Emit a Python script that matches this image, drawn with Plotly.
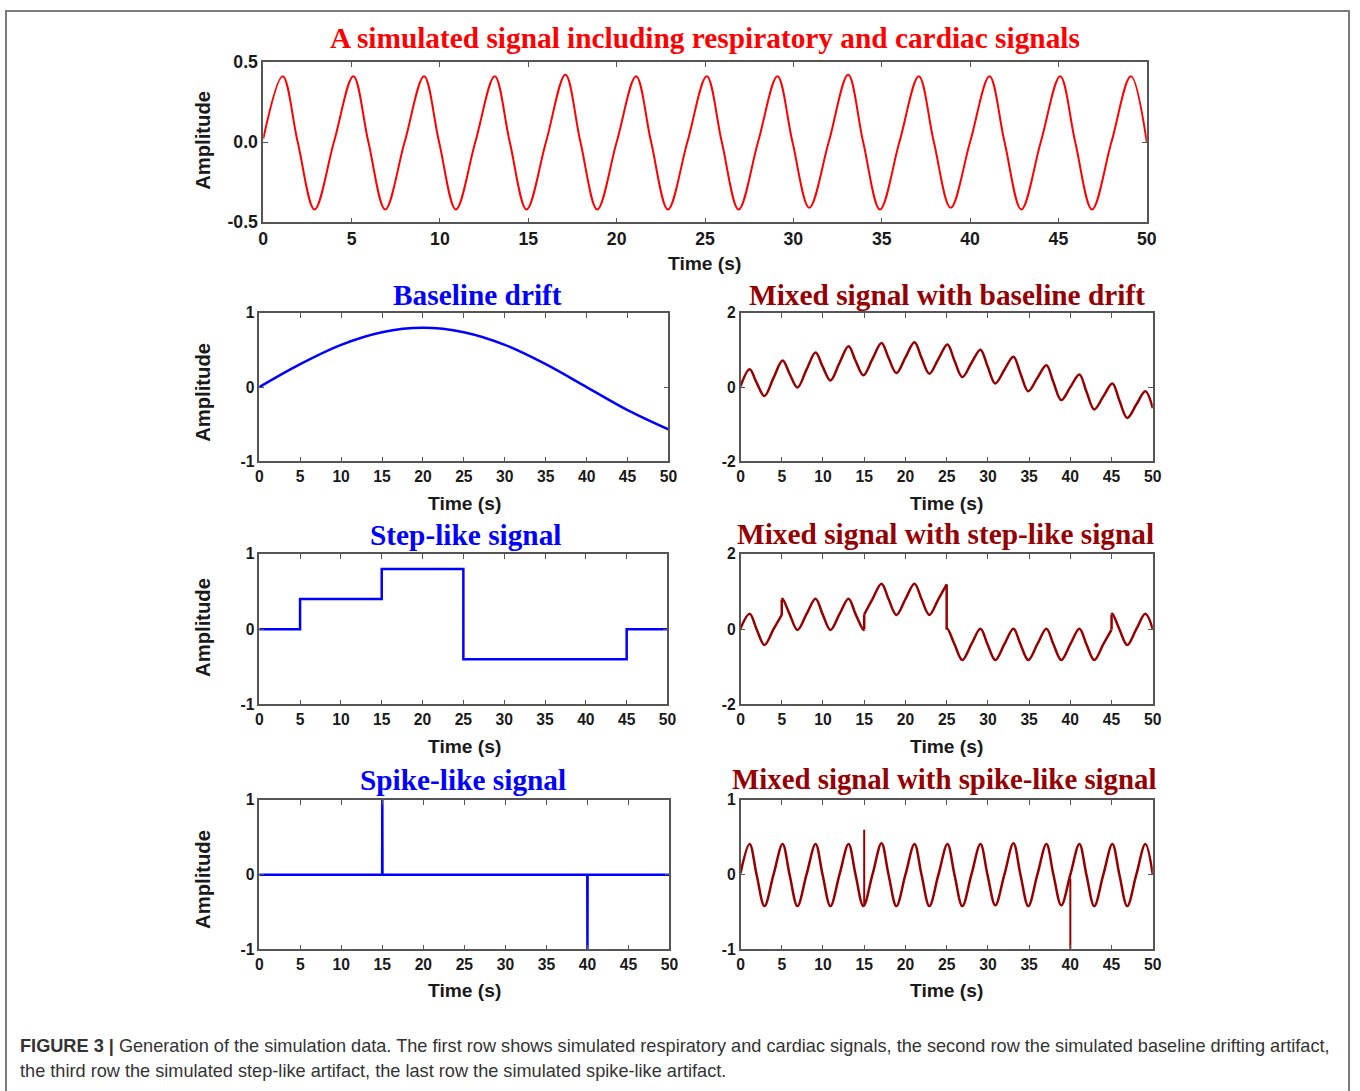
import plotly.graph_objects as go

W, H = 1360, 1091             # figure size
BODY = 8                      # page margin around the figure
SX, SY = 1360 / 1376, 1091 / 1107   # page -> picture scaling seen in the renders
FS = 1 / SX                   # font compensation

# ---------------- data ----------------
time_ticks = [0, 5, 10, 15, 20, 25, 30, 35, 40, 45, 50]
top_yticks = [-0.5, 0.0, 0.5]
top_yticktext = ['-0.5', '0.0', '0.5']

# respiratory + cardiac signal: key points (zero crossings, peaks, troughs)
resp_t = [0, 1.1, 1.95, 2.9, 4.0, 5.1, 5.95, 6.9, 8.0, 9.1, 9.95, 10.9, 12.0, 13.1, 13.95, 14.9,
          16.0, 17.1, 17.95, 18.9, 20.0, 21.1, 21.95, 22.9, 24.0, 25.1, 25.95, 26.9, 28.0, 29.1,
          29.95, 30.9, 32.0, 33.1, 33.95, 34.9, 36.0, 37.1, 37.95, 38.9, 40.0, 41.1, 41.95, 42.9,
          44.0, 45.1, 45.95, 46.9, 48.0, 49.1, 50.0]
resp_y = [0.02, 0.41, 0.0, -0.42, 0.0, 0.41, 0.0, -0.42, 0.0, 0.41, 0.0, -0.42, 0.0, 0.41, 0.0, -0.42,
          0.0, 0.42, 0.0, -0.42, 0.0, 0.41, 0.0, -0.42, 0.0, 0.41, 0.0, -0.42, 0.0, 0.41,
          0.0, -0.41, 0.0, 0.42, 0.0, -0.42, 0.0, 0.41, 0.0, -0.41, 0.0, 0.41, 0.0, -0.42,
          0.0, 0.41, 0.0, -0.42, 0.0, 0.41, 0.0]

# baseline drift
drift_t = [0, 5, 10, 15, 20, 25, 30, 35, 40, 45, 50]
drift_y = [0.0, 0.31, 0.57, 0.74, 0.80, 0.74, 0.57, 0.31, 0.0, -0.31, -0.57]

# mixed signal with baseline drift (same key times as resp_t)
mix_drift_y = [0.02, 0.48, 0.12, -0.24, 0.25, 0.72, 0.36, -0.01, 0.47, 0.93, 0.56, 0.18, 0.65, 1.10,
               0.71, 0.32, 0.76, 1.19, 0.79, 0.38, 0.80, 1.21, 0.79, 0.36, 0.76, 1.15, 0.71, 0.27,
               0.65, 1.01, 0.57, 0.10, 0.47, 0.82, 0.37, -0.11, 0.25, 0.59, 0.13, -0.35, 0.0, 0.34,
               -0.12, -0.60, -0.25, 0.10, -0.36, -0.83, -0.47, -0.11, -0.57]

# step-like signal
step_t = [0, 5, 15, 25, 45, 50]
step_y = [0.0, 0.4, 0.8, -0.4, 0.0, 0.0]

# mixed signal with step-like signal (None = jump)
mix_step_t = [0, 1.1, 1.95, 2.9, 4.0, 5.0, None,
              5.0, 5.1, 5.95, 6.9, 8.0, 9.1, 9.95, 10.9, 12.0, 13.1, 13.95, 14.9, 15.0, None,
              15.0, 16.0, 17.1, 17.95, 18.9, 20.0, 21.1, 21.95, 22.9, 24.0, 25.0, None,
              25.0, 25.1, 25.95, 26.9, 28.0, 29.1, 29.95, 30.9, 32.0, 33.1, 33.95, 34.9, 36.0,
              37.1, 37.95, 38.9, 40.0, 41.1, 41.95, 42.9, 44.0, 45.0, None,
              45.0, 45.1, 45.95, 46.9, 48.0, 49.1, 50.0]
mix_step_y = [0.02, 0.41, 0.0, -0.42, 0.0, 0.38, None,
              0.78, 0.81, 0.4, -0.02, 0.4, 0.81, 0.4, -0.02, 0.4, 0.81, 0.4, -0.02, -0.01, None,
              0.39, 0.8, 1.21, 0.8, 0.38, 0.8, 1.21, 0.8, 0.38, 0.8, 1.19, None,
              -0.01, 0.01, -0.4, -0.82, -0.4, 0.01, -0.4, -0.82, -0.4, 0.01, -0.4, -0.82, -0.4,
              0.01, -0.4, -0.82, -0.4, 0.01, -0.4, -0.82, -0.4, -0.01, None,
              0.39, 0.41, 0.0, -0.42, 0.0, 0.41, 0.0]

# spike-like signal
spike_t = [0, 14.98, 15.0, 15.02, 39.98, 40.0, 40.02, 50]
spike_y = [0.0, 0.0, 1.0, 0.0, 0.0, -1.0, 0.0, 0.0]

# mixed signal with spike-like signal: resp key points + spikes
mix_spike_t = [15.0, 40.0]
mix_spike_from = [-0.41, -0.05]
mix_spike_to = [0.6, -1.0]

# ---------------- styling ----------------
RED = '#ff0000'
BLUE = '#0000ff'
DRED = '#960000'
FRAME = '#555555'


def px(x):
    """reference pixel -> paper x"""
    return (x / SX - BODY) / W


def py(y):
    """reference pixel -> paper y"""
    return 1 - (y / SY - BODY) / H


fig = go.Figure()

panels = [
    # name, x px range, y px range, yrange, ytickvals, ticktext, tick font size
    ('', (266, 1149), (60, 221), [-0.5, 0.5], top_yticks, top_yticktext, 17.5),
    ('2', (262, 671), (312, 461), [-1, 1], [-1, 0, 1], ['-1', '0', '1'], 15.5),
    ('3', (743, 1155), (312, 461), [-2, 2], [-2, 0, 2], ['-2', '0', '2'], 15.5),
    ('4', (262, 670), (554, 705), [-1, 1], [-1, 0, 1], ['-1', '0', '1'], 15.5),
    ('5', (743, 1155), (554, 705), [-2, 2], [-2, 0, 2], ['-2', '0', '2'], 15.5),
    ('6', (262, 672), (801, 951), [-1, 1], [-1, 0, 1], ['-1', '0', '1'], 15.5),
    ('7', (743, 1155), (801, 951), [-1, 1], [-1, 0, 1], ['-1', '0', '1'], 15.5),
]

layout_axes = {}
for name, xr, yr, yrange, yticks, ytext, fs in panels:
    tickfont = dict(family='Liberation Sans, Arial', size=fs * FS, color='#1a1a1a', weight='bold')
    common = dict(showline=True, linecolor=FRAME, linewidth=1.5, mirror='ticks',
                  ticks='inside', ticklen=5, tickwidth=1.2, tickcolor=FRAME,
                  showgrid=False, zeroline=False, tickfont=tickfont)
    layout_axes['xaxis' + name] = dict(common, domain=[px(xr[0]), px(xr[1])], range=[0, 50],
                                       tickvals=time_ticks, anchor='y' + name)
    layout_axes['yaxis' + name] = dict(common, domain=[py(yr[1]), py(yr[0])], range=yrange,
                                       tickvals=yticks, ticktext=ytext, anchor='x' + name)
fig.update_layout(**layout_axes)

# traces
fig.add_trace(go.Scatter(x=resp_t, y=resp_y, mode='lines', line=dict(color=RED, width=2, shape='spline'),
                         xaxis='x', yaxis='y'))
fig.add_trace(go.Scatter(x=drift_t, y=drift_y, mode='lines', line=dict(color=BLUE, width=2.5, shape='spline'),
                         xaxis='x2', yaxis='y2'))
fig.add_trace(go.Scatter(x=resp_t, y=mix_drift_y, mode='lines', line=dict(color=DRED, width=2.5, shape='spline'),
                         xaxis='x3', yaxis='y3'))
fig.add_trace(go.Scatter(x=step_t, y=step_y, mode='lines', line=dict(color=BLUE, width=2.5, shape='hv'),
                         xaxis='x4', yaxis='y4'))
fig.add_trace(go.Scatter(x=mix_step_t, y=mix_step_y, mode='lines', connectgaps=False,
                         line=dict(color=DRED, width=2.5, shape='spline'), xaxis='x5', yaxis='y5'))
# jumps of the mixed step signal, joined from the segment ends
jx, jy = [], []
for i, v in enumerate(mix_step_t):
    if v is None:
        jx += [mix_step_t[i - 1], mix_step_t[i + 1], None]
        jy += [mix_step_y[i - 1], mix_step_y[i + 1], None]
fig.add_trace(go.Scatter(x=jx, y=jy, mode='lines', line=dict(color=DRED, width=2.5),
                         xaxis='x5', yaxis='y5'))
fig.add_trace(go.Scatter(x=spike_t, y=spike_y, mode='lines', line=dict(color=BLUE, width=2.5),
                         xaxis='x6', yaxis='y6'))
fig.add_trace(go.Scatter(x=resp_t, y=resp_y, mode='lines', line=dict(color=DRED, width=2.5, shape='spline'),
                         xaxis='x7', yaxis='y7'))
sx, sy = [], []
for t, a, b in zip(mix_spike_t, mix_spike_from, mix_spike_to):
    sx += [t, t, None]
    sy += [a, b, None]
fig.add_trace(go.Scatter(x=sx, y=sy, mode='lines', line=dict(color=DRED, width=2),
                         xaxis='x7', yaxis='y7'))

annotations = []
TITLE_FONT = 'Liberation Serif, Times New Roman, serif'
titles = [
    ('A simulated signal including respiratory and cardiac signals', 707, 36, RED, 29),
    ('Baseline drift', 480, 294, BLUE, 29),
    ('Mixed signal with baseline drift', 949, 294, DRED, 29),
    ('Step-like signal', 468, 535, BLUE, 29),
    ('Mixed signal with step-like signal', 948, 534, DRED, 29),
    ('Spike-like signal', 466, 781, BLUE, 29),
    ('Mixed signal with spike-like signal', 946, 780, DRED, 28.5),
]
for text, x, y, c, s in titles:
    annotations.append(dict(text='<b>%s</b>' % text, x=px(x), y=py(y), xref='paper', yref='paper',
                            showarrow=False, xanchor='center', yanchor='middle',
                            font=dict(family=TITLE_FONT, size=s * FS, color=c)))

label_font = dict(family='Liberation Sans, Arial', size=19 * FS, color='#1a1a1a', weight='bold')
for x, y in [(707, 262), (467, 503), (949, 503), (467, 747), (949, 747), (467, 992), (949, 992)]:
    annotations.append(dict(text='Time (s)', x=px(x), y=py(y), xref='paper', yref='paper',
                            showarrow=False, xanchor='center', yanchor='middle', font=label_font))
for y in [139, 392, 628, 881]:
    annotations.append(dict(text='Amplitude', x=px(205), y=py(y), xref='paper', yref='paper',
                            showarrow=False, xanchor='center', yanchor='middle', textangle=-90,
                            font=dict(label_font, size=20 * FS)))

cap_font = dict(family='Liberation Sans, Arial', size=17.95 * FS, color='#333333')
annotations.append(dict(text='<b>FIGURE 3 |</b> Generation of the simulation data. The first row shows simulated '
                             'respiratory and cardiac signals, the second row the simulated baseline drifting artifact,',
                        x=px(21), y=py(1048), xref='paper', yref='paper', showarrow=False,
                        xanchor='left', yanchor='middle', font=cap_font))
annotations.append(dict(text='the third row the simulated step-like artifact, the last row the simulated spike-like artifact.',
                        x=px(21), y=py(1073), xref='paper', yref='paper', showarrow=False,
                        xanchor='left', yanchor='middle', font=cap_font))

fig.update_layout(
    width=W, height=H, autosize=False,
    margin=dict(l=0, r=0, t=0, b=0),
    paper_bgcolor='white', plot_bgcolor='white',
    showlegend=False,
    annotations=annotations,
    shapes=[dict(type='rect', xref='paper', yref='paper', x0=1 / W, x1=(W - 1) / W, y0=-0.02, y1=1 - 1 / H,
                 line=dict(color='#7a7a7a', width=2), fillcolor='rgba(0,0,0,0)', layer='below')],
)

fig.write_html('out.html')
